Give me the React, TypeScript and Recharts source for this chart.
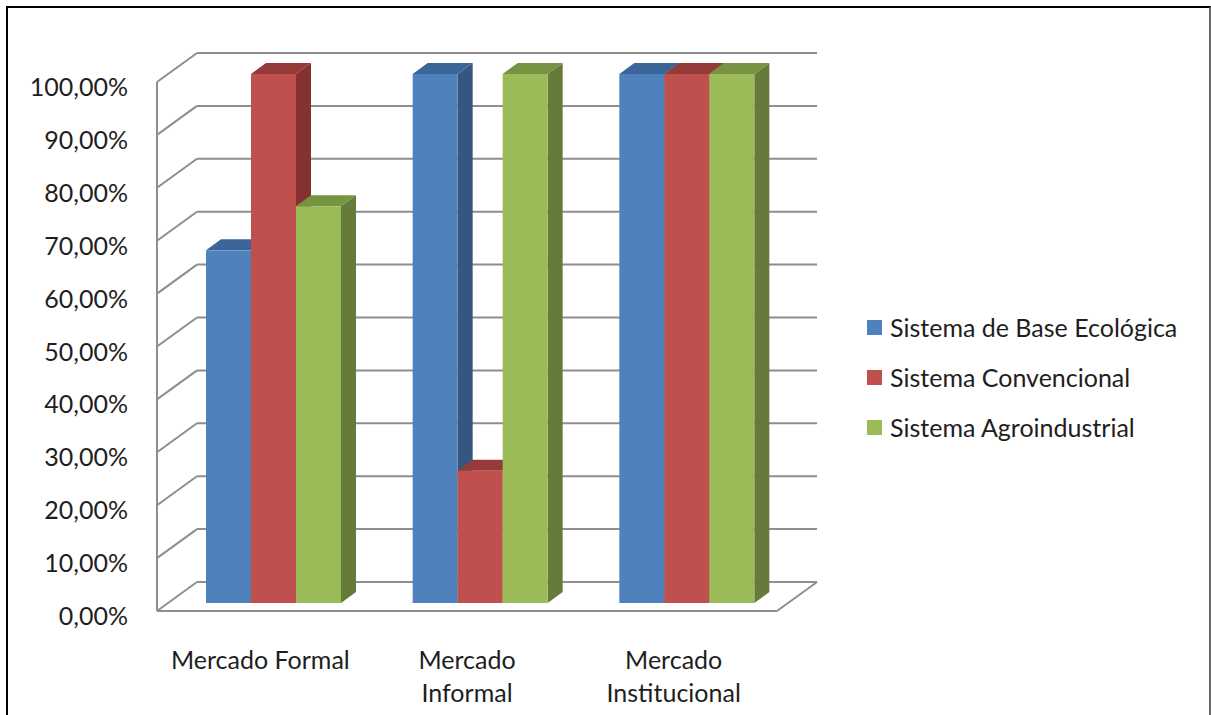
import { Bar, BarChart, CartesianGrid, Legend, XAxis, YAxis } from "recharts";

const categories = ["Mercado Formal", "Mercado Informal", "Mercado Institucional"];
const baseEcologica = [66.67, 100, 100];
const convencional = [100, 25, 100];
const agroindustrial = [75, 100, 100];
const yTicks = [0, 10, 20, 30, 40, 50, 60, 70, 80, 90, 100];

const series = [
  { key: "eco", name: "Sistema de Base Ecológica", color: "#4F81BD", top: "#3C6699", side: "#34567F" },
  { key: "conv", name: "Sistema Convencional", color: "#C0504D", top: "#953B39", side: "#843231" },
  { key: "agro", name: "Sistema Agroindustrial", color: "#9BBB59", top: "#779443", side: "#667A3A" },
];

const data = categories.map((name, i) => ({
  name,
  eco: baseEcologica[i],
  conv: convencional[i],
  agro: agroindustrial[i],
}));

const FONT = "Lato, 'Open Sans', sans-serif";
const GRID = "#8E8E8E";
// bar depth
const DX = 15;
const DY = 11;
// front / back wall offsets relative to the bar plane
const FRONT_DX = -13;
const FRONT_DY = 8;
const BACK_DX = 27;
const BACK_DY = -21;
const PLOT_TOP = 74;
const PLOT_BOTTOM = 603;

const fmt = (v: number) => v.toFixed(2).replace(".", ",") + "%";

function Bar3D(props: any) {
  const { x, y, width, height, fill, top, side } = props;
  if (height == null || width == null) return null;
  const r = x + width;
  const b = y + height;
  return (
    <g>
      <polygon points={`${r},${y} ${r + DX},${y - DY} ${r + DX},${b - DY} ${r},${b}`} fill={side} />
      <polygon points={`${x},${y} ${x + DX},${y - DY} ${r + DX},${y - DY} ${r},${y}`} fill={top} />
      <rect x={x} y={y} width={width} height={height} fill={fill} />
    </g>
  );
}

function GridLine(props: any) {
  const { x1, x2, y1, index } = props;
  const fx1 = x1 + FRONT_DX;
  const fx2 = x2 + FRONT_DX;
  const fy = y1 + FRONT_DY;
  const by = y1 + BACK_DY;
  const isBottom = Math.abs(y1 - PLOT_BOTTOM) < 1;
  const isTop = Math.abs(y1 - PLOT_TOP) < 1;
  return (
    <g key={`g-${index}`} stroke={GRID} strokeWidth={2} fill="none">
      <line x1={x1 + BACK_DX} y1={by} x2={x2 + BACK_DX} y2={by} />
      <line x1={fx1} y1={fy} x2={x1 + BACK_DX} y2={by} />
      {isBottom && (
        <>
          <line x1={fx1} y1={fy} x2={fx2} y2={fy} />
          <line x1={fx2} y1={fy} x2={x2 + BACK_DX} y2={by} />
        </>
      )}
      {isTop && <line x1={fx1} y1={fy} x2={fx1} y2={PLOT_BOTTOM + FRONT_DY} />}
    </g>
  );
}

function YTick(props: any) {
  const { x, y, payload } = props;
  return (
    <text x={x - 40} y={y + 12} textAnchor="end" dominantBaseline="central" fontFamily={FONT} fontSize={25} fill="#1e1e1e">
      {fmt(payload.value)}
    </text>
  );
}

function XTick(props: any) {
  const { x, y, payload } = props;
  const label: string = payload.value;
  const lines = label.length > 14 ? [label.slice(0, label.indexOf(" ")), label.slice(label.indexOf(" ") + 1)] : [label];
  return (
    <text x={x + FRONT_DX} y={y + 54} textAnchor="middle" fontFamily={FONT} fontSize={25} fill="#1e1e1e">
      {lines.map((l, i) => (
        <tspan key={i} x={x + FRONT_DX} dy={i === 0 ? 0 : 33} dominantBaseline="central">
          {l}
        </tspan>
      ))}
    </text>
  );
}

function LegendContent() {
  return (
    <div style={{ fontFamily: FONT, fontSize: 25, color: "#1e1e1e" }}>
      {series.map((s) => (
        <div key={s.key} style={{ display: "flex", alignItems: "center", height: 50, whiteSpace: "nowrap" }}>
          <span style={{ width: 15, height: 15, background: s.color, marginRight: 8, display: "inline-block", flex: "none" }} />
          <span>{s.name}</span>
        </div>
      ))}
    </div>
  );
}

export default function App() {
  return (
    <div style={{ position: "absolute", left: 0, top: 0, width: 1211, height: 715, background: "#fff", overflow: "hidden" }}>
      <div
        style={{
          position: "absolute",
          left: 6,
          top: 6,
          width: 1205,
          height: 730,
          boxSizing: "border-box",
          borderLeft: "2px solid #000",
          borderTop: "2px solid #000",
          borderRight: "2px solid #666",
        }}
      />
      <div style={{ position: "absolute", left: 0, top: 0 }}>
        <BarChart
          width={1211}
          height={715}
          data={data}
          margin={{ top: PLOT_TOP, right: 421, bottom: 0, left: 0 }}
          barGap={0}
          barCategoryGap={36}
        >
          <CartesianGrid vertical={false} horizontal={(p: any) => <GridLine {...p} />} />
          <XAxis dataKey="name" height={112} axisLine={false} tickLine={false} tickSize={0} tick={<XTick />} interval={0} />
          <YAxis
            domain={[0, 100]}
            ticks={yTicks}
            width={170}
            axisLine={false}
            tickLine={false}
            tickSize={0}
            tick={<YTick />}
            interval={0}
          />
          <Legend
            layout="vertical"
            align="center"
            verticalAlign="middle"
            content={<LegendContent />}
            wrapperStyle={{ left: 867, top: 302, width: 340 }}
          />
          {series.map((s) => (
            <Bar
              key={s.key}
              dataKey={s.key}
              name={s.name}
              fill={s.color}
              isAnimationActive={false}
              shape={(p: any) => <Bar3D {...p} top={s.top} side={s.side} />}
            />
          ))}
        </BarChart>
      </div>
    </div>
  );
}
